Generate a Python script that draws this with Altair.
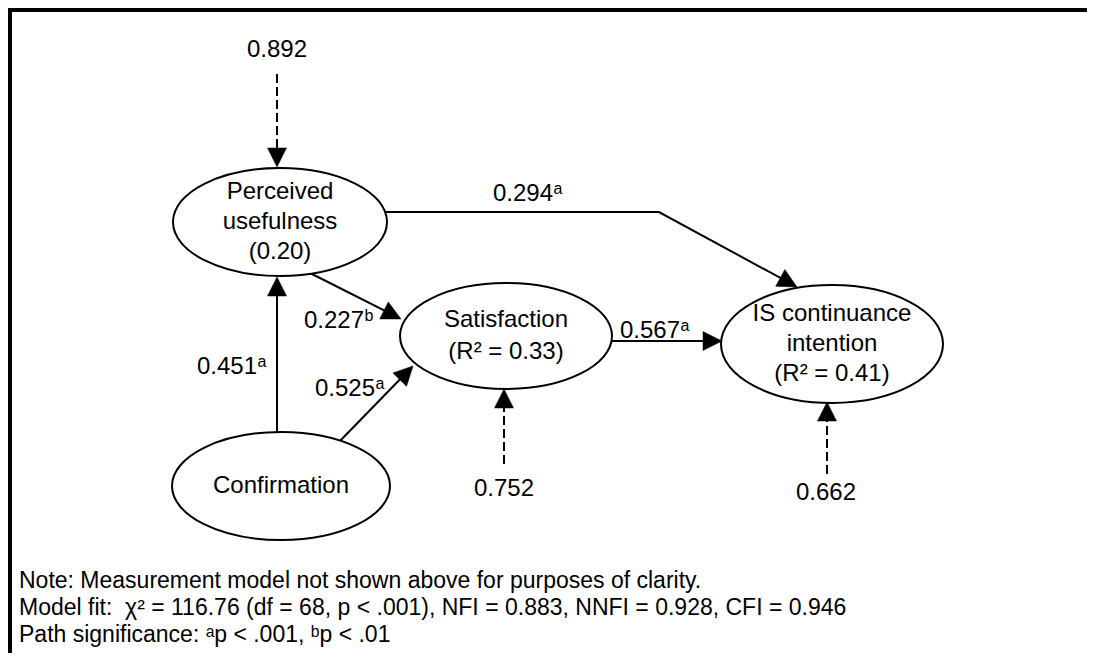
import math
import altair as alt
import pandas as pd

# ---------------- data ----------------
# latent constructs (label lines)
node_names = ["Perceived usefulness", "Satisfaction", "IS continuance intention", "Confirmation"]
node_lines = [
    ["Perceived", "usefulness", "(0.20)"],
    ["Satisfaction", "(R\u00b2 = 0.33)"],
    ["IS continuance", "intention", "(R\u00b2 = 0.41)"],
    ["Confirmation"],
]
# path coefficients and their significance marks
path_values = ["0.451", "0.525", "0.227", "0.294", "0.567"]
path_sig = ["a", "a", "b", "a", "a"]
# error terms
error_labels = ["0.892", "0.752", "0.662"]
# notes
notes = [
    "Note: Measurement model not shown above for purposes of clarity.",
    "Model fit: \u00a0\u03c7\u00b2 = 116.76 (df = 68, p < .001), NFI = 0.883, NNFI = 0.928, CFI = 0.946",
    "Path significance: \u1d43p < .001, \u1d47p < .01",
]

# ---------------- layout (reference pixel coordinates) ----------------
node_cx = [280, 506, 832, 281]
node_cy = [222, 336, 344, 486]
node_rx = [107, 106, 111, 109]
node_ry = [54, 53, 59, 54]
line_gap = [30, 32, 30, 30]

path_label_x = [197, 315, 304, 493, 620]
path_label_y = [367, 389, 321, 194, 331]

error_x = [277, 504, 826]
error_y = [50, 489, 493]

edge_ids = ["conf_pu", "conf_sat", "pu_sat", "pu_is", "sat_is", "e_pu", "e_sat", "e_is"]
edge_dashed = [False, False, False, False, False, True, True, True]
edge_pts = [
    [(277, 432), (277, 277)],
    [(338, 443), (413, 366)],
    [(310, 273), (401, 319)],
    [(386, 212), (659, 212), (797, 287)],
    [(611, 341), (722, 341)],
    [(277, 74), (277, 167)],
    [(504, 464), (504, 389)],
    [(827, 474), (827, 402)],
]

notes_x = 19
notes_y = [588, 615, 642]

W, H = 1079, 645
X0, Y0 = 8, 8
xs = alt.Scale(domain=[X0, X0 + W], range=[0, W])
ys = alt.Scale(domain=[Y0, Y0 + H], range=[0, H])

def X(f):
    return alt.X(f"{f}:Q", scale=xs, axis=None)

def Y(f):
    return alt.Y(f"{f}:Q", scale=ys, axis=None)

FONT = "Liberation Sans, Arial, DejaVu Sans"
FS = 24
# width of a "0.xxx" label in Arial-metric font: 4 digits (0.556 em) + period (0.278 em)
NUM_W = (4 * 0.556 + 0.278) * FS

# ---------------- build tables ----------------
K = 0.5523
def ellipse_path(e):
    k = K
    return (f"M -1 0 C -1 {-k*e:.4f} {-k:.4f} {-e:.4f} 0 {-e:.4f} "
            f"C {k:.4f} {-e:.4f} 1 {-k*e:.4f} 1 0 "
            f"C 1 {k*e:.4f} {k:.4f} {e:.4f} 0 {e:.4f} "
            f"C {-k:.4f} {e:.4f} -1 {k*e:.4f} -1 0 Z")

nodes = pd.DataFrame({
    "name": node_names,
    "x": node_cx,
    "y": node_cy,
    "shape": [ellipse_path(ry / rx) for rx, ry in zip(node_rx, node_ry)],
    "size": [(2 * rx) ** 2 for rx in node_rx],
})

rows = []
for lines, cx, cy, g in zip(node_lines, node_cx, node_cy, line_gap):
    n = len(lines)
    for i, t in enumerate(lines):
        rows.append({"text": t, "x": cx, "y": cy + (i - (n - 1) / 2) * g})
node_text = pd.DataFrame(rows)

plabels = pd.DataFrame({"text": path_values, "x": path_label_x, "y": path_label_y})
psups = pd.DataFrame({"text": path_sig,
                      "x": [x + NUM_W + 0.5 for x in path_label_x],
                      "y": path_label_y})
elabels = pd.DataFrame({"text": error_labels, "x": error_x, "y": error_y})
notes_df = pd.DataFrame({"text": notes, "x": [notes_x] * 3, "y": notes_y})

HEAD = 9.5  # half arrowhead length
line_rows, head_rows = [], []
for eid, dashed, pts in zip(edge_ids, edge_dashed, edge_pts):
    (x1, y1), (x2, y2) = pts[-2], pts[-1]
    L = math.hypot(x2 - x1, y2 - y1)
    ux, uy = (x2 - x1) / L, (y2 - y1) / L
    cxh, cyh = x2 - HEAD * ux, y2 - HEAD * uy
    ang = math.degrees(math.atan2(ux, -uy)) % 360
    head_rows.append({"edge": eid, "x": cxh, "y": cyh, "angle": ang})
    for i, (px, py) in enumerate(pts):
        if i == len(pts) - 1:
            px, py = cxh, cyh
        line_rows.append({"edge": eid, "dashed": dashed, "order": i, "x": px, "y": py})
lines_df = pd.DataFrame(line_rows)
heads = pd.DataFrame(head_rows)

frame = pd.DataFrame({"x": [X0, 9], "x2": [X0 + W, 9], "y": [9, Y0], "y2": [9, Y0 + H]})

# ---------------- layers ----------------
frame_l = alt.Chart(frame).mark_rule(color="black", strokeWidth=6).encode(
    x=X("x"), x2="x2:Q", y=Y("y"), y2="y2:Q")

solid = alt.Chart(lines_df[~lines_df.dashed]).mark_line(
    color="black", strokeWidth=2, strokeCap="butt").encode(
    x=X("x"), y=Y("y"), detail="edge:N", order="order:Q")

dashed = alt.Chart(lines_df[lines_df.dashed]).mark_line(
    color="black", strokeWidth=2, strokeDash=[9, 4], strokeCap="butt").encode(
    x=X("x"), y=Y("y"), detail="edge:N", order="order:Q")

ellipses = alt.Chart(nodes).mark_point(
    filled=True, fill="white", stroke="black", strokeWidth=2, opacity=1).encode(
    x=X("x"), y=Y("y"),
    shape=alt.Shape("shape:N", scale=None),
    size=alt.Size("size:Q", scale=None))

arrowheads = alt.Chart(heads).mark_point(
    shape="M 0 -1 L -1 1 L 1 1 Z", filled=True, fill="black", stroke="black",
    strokeWidth=0.5, size=361, opacity=1).encode(
    x=X("x"), y=Y("y"), angle=alt.Angle("angle:Q", scale=None))

ntext = alt.Chart(node_text).mark_text(
    font=FONT, fontSize=FS, align="center", baseline="middle", color="black").encode(
    x=X("x"), y=Y("y"), text="text:N")

ptext = alt.Chart(plabels).mark_text(
    font=FONT, fontSize=FS, align="left", baseline="middle", color="black").encode(
    x=X("x"), y=Y("y"), text="text:N")

stext = alt.Chart(psups).mark_text(
    font=FONT, fontSize=16, align="left", baseline="alphabetic", color="black").encode(
    x=X("x"), y=Y("y"), text="text:N")

etext = alt.Chart(elabels).mark_text(
    font=FONT, fontSize=FS, align="center", baseline="middle", color="black").encode(
    x=X("x"), y=Y("y"), text="text:N")

ntext2 = alt.Chart(notes_df).mark_text(
    font=FONT, fontSize=23, align="left", baseline="alphabetic", color="black").encode(
    x=X("x"), y=Y("y"), text="text:N")

chart = alt.layer(
    frame_l, solid, dashed, ellipses, arrowheads, ntext, ptext, stext, etext, ntext2
).properties(
    width=W, height=H, padding=0, autosize=alt.AutoSizeParams(type="none")
).configure_view(stroke=None).configure(background="white")

chart.save("out.html", embed_options={"renderer": "svg", "actions": False})
